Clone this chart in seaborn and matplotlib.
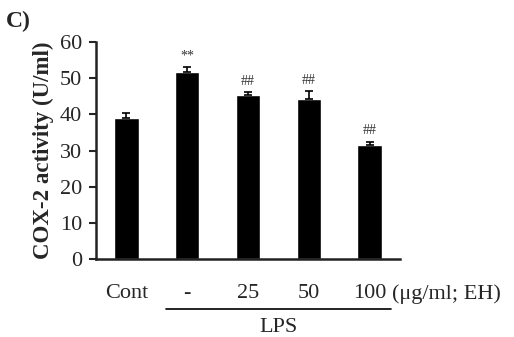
import matplotlib.pyplot as plt
import seaborn as sb

groups = ['Cont', '-', '25', '50', '100']
activity = [39.0, 51.8, 45.3, 44.4, 31.5]
sem = [1.3, 1.2, 0.8, 2.0, 1.0]
marks = ['', '**', '##', '##', '##']

sb.set_style('ticks')
plt.rcParams['font.family'] = ['Liberation Serif', 'DejaVu Serif']

fig = plt.figure(figsize=(5.14, 3.37), dpi=100)
ax = fig.add_axes([0.187, 0.231, 0.591, 0.644])

sb.barplot(x=groups, y=activity, color='black', width=0.4, saturation=1, ax=ax)
ax.errorbar(range(len(groups)), activity, yerr=[[0] * len(sem), sem],
            fmt='none', ecolor='black', elinewidth=1.2, capsize=3, capthick=1.2)

for i, (v, e, m) in enumerate(zip(activity, sem, marks)):
    if m:
        ax.text(i, v + e + 1.3, m, ha='center', va='bottom', fontsize=10, color='#333333')

ax.set_xlim(-0.5, 4.5)
ax.set_ylim(0, 60)
ax.set_yticks(range(0, 61, 10))
ax.tick_params(axis='y', labelsize=16, width=1.5, length=5, direction='out', pad=5)
ax.tick_params(axis='x', labelsize=16, length=0, pad=18)
ax.set_ylabel('COX-2 activity (U/ml)', fontsize=16.5, fontweight='bold', labelpad=4)
sb.despine(ax=ax)
for s in ['left', 'bottom']:
    ax.spines[s].set_linewidth(1.8)
    ax.spines[s].set_color('#222222')

# LPS bracket
ax.plot([0.65, 4.35], [-13.7, -13.7], color='black', lw=1.2, clip_on=False)
ax.text(2.5, -18.9, 'LPS', ha='center', va='center', fontsize=16)
ax.text(4.37, -9.6, '(μg/ml; EH)', ha='left', va='center', fontsize=16)

fig.text(0.012, 0.935, 'C)', fontsize=17, fontweight='bold', va='center')

fig.savefig('out.png', dpi=100)
